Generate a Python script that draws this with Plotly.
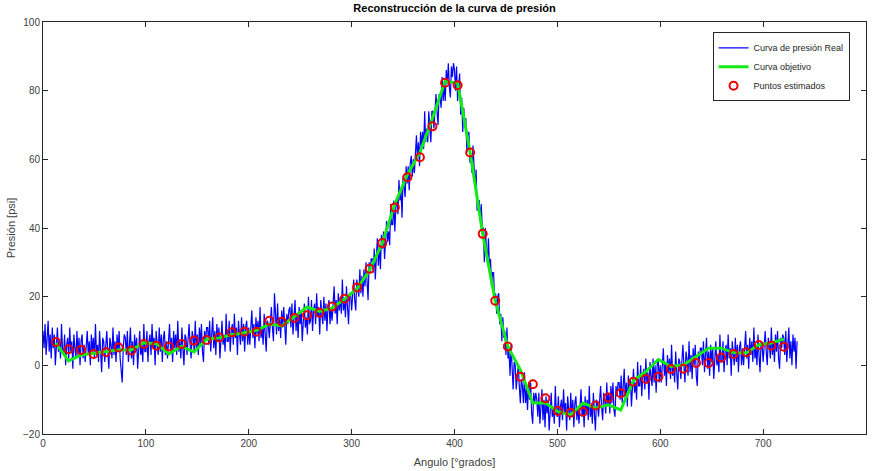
import plotly.graph_objects as go

# ---- Data ----
# Noisy measured pressure ("Curva de presión Real"), one sample per degree, 0..733
ANGULO_REAL = list(range(0, 734))
PRESION_REAL = [
    10, 5, 12, 3, 8, 13, 4, 9, 2, 11, 5, 9, 0, 8, 11, 4, 7, 2, 12, 4,
    3, 9, 0, 6, 8, 2, 11, 4, 7, -1, 9, 5, 2, 10, 3, 8, 0, 7, 9, 2,
    6, 1, 8, 10, 3, 7, 0, 9, 4, 8, 2, 12, 3, 6, 1, 10, 4, -2, 8, 7,
    1, 7, 10, 4, -1, 8, 6, 2, 11, 3, 7, 1, 9, 4, 10, 2, -2, -5, 5, 9,
    8, 3, 10, 1, 6, 11, 2, 7, 0, 9, 4, 8, -1, 7, 10, 3, 6, 1, 12, 4,
    4, 10, 1, 7, 9, 3, 12, 5, 8, 0, 10, 6, 3, 11, 4, 9, 1, 8, 10, 3,
    7, 2, 9, 12, 4, 8, 1, 10, 5, 9, 3, 13, 4, 7, 2, 11, 5, 0, 9, 8,
    3, 9, 12, 6, 2, 10, 8, 4, 13, 5, 9, 3, 11, 6, 12, 4, 1, 10, 7, 11,
    11, 6, 13, 4, 9, 14, 5, 10, 3, 12, 7, 11, 2, 10, 13, 6, 9, 4, 15, 7,
    7, 13, 4, 10, 12, 6, 15, 8, 11, 3, 13, 9, 6, 14, 7, 12, 4, 11, 13, 6,
    11, 6, 13, 16, 8, 12, 5, 14, 9, 13, 7, 17, 8, 11, 6, 15, 9, 4, 13, 12,
    8, 14, 17, 11, 7, 21, 13, 9, 18, 10, 14, 8, 16, 11, 17, 9, 6, 15, 12, 16,
    17, 11, 18, 9, 14, 19, 10, 15, 8, 17, 12, 16, 7, 15, 18, 11, 14, 9, 20, 12,
    13, 19, 10, 16, 18, 12, 21, 14, 17, 9, 19, 15, 12, 20, 13, 18, 10, 17, 19, 12,
    17, 13, 20, 23, 15, 19, 12, 21, 16, 20, 15, 25, 16, 19, 14, 23, 17, 12, 21, 21,
    16, 22, 25, 19, 16, 25, 23, 20, 28, 21, 26, 20, 28, 23, 30, 22, 19, 30, 27, 31,
    31, 27, 34, 25, 31, 37, 29, 35, 28, 38, 34, 39, 31, 39, 42, 36, 39, 35, 47, 41,
    41, 48, 39, 46, 49, 44, 54, 48, 51, 43, 55, 52, 49, 58, 53, 58, 51, 59, 61, 55,
    60, 56, 63, 67, 60, 65, 58, 68, 64, 68, 63, 74, 65, 69, 65, 74, 69, 65, 74, 74,
    69, 75, 79, 74, 70, 79, 78, 75, 84, 77, 82, 77, 86, 82, 88, 81, 78, 87, 84, 88,
    86, 80, 87, 77, 81, 85, 73, 78, 68, 75, 70, 72, 62, 67, 68, 59, 61, 56, 64, 56,
    52, 57, 45, 48, 48, 42, 47, 40, 40, 30, 40, 34, 30, 37, 28, 31, 23, 27, 27, 19,
    21, 15, 20, 21, 12, 15, 7, 14, 8, 10, 3, 11, 2, 4, -3, 6, 1, -7, 1, 0,
    -7, -2, 0, -6, -11, -4, -6, -11, -2, -11, -7, -13, -5, -10, -5, -14, -17, -8, -11, -8,
    -10, -15, -8, -17, -12, -7, -16, -10, -18, -9, -14, -10, -19, -11, -8, -15, -12, -17, -6, -14,
    -15, -9, -18, -12, -10, -16, -7, -14, -11, -19, -9, -13, -16, -8, -15, -10, -18, -11, -9, -16,
    -12, -17, -10, -7, -15, -11, -18, -9, -14, -10, -16, -6, -15, -12, -17, -8, -14, -19, -10, -11,
    -15, -9, -6, -12, -16, -8, -10, -14, -5, -12, -8, -14, -6, -11, -5, -13, -15, -6, -9, -5,
    -5, -10, -3, -11, -6, -1, -10, -5, -12, -3, -8, -4, -12, -4, -1, -8, -5, -10, 1, -6,
    -6, 0, -9, -3, -1, -7, 2, -5, -2, -10, 1, -3, -6, 2, -5, 0, -8, 0, 2, -5,
    0, -5, 2, 5, -3, 1, -6, 3, -2, 2, -4, 6, -3, 0, -5, 4, -2, -7, 2, 1,
    -4, 3, 6, 0, -5, 4, 2, -3, 7, -2, 3, -4, 5, 0, 6, -3, -6, 4, 1, 5,
    5, 0, 7, -2, 3, 8, -1, 4, -3, 6, 1, 5, -4, 4, 7, 0, 3, -2, 9, 1,
    1, 7, -2, 4, 6, 0, 9, 2, 5, -3, 7, 3, 0, 8, 1, 6, -2, 5, 7, 0,
    5, 0, 7, 10, 2, 6, -1, 8, 3, 7, 1, 11, 2, 5, 0, 9, 3, -2, 7, 6,
    1, 7, 10, 4, 0, 8, 6, 2, 11, 3, 7, 1, 9, 4, 10, 2, -1, 8, 5, 9,
    8, 3, 10, 1, 6, 11, 2, 7, 0, 9, 4, 8, -1, 7,
]

# Sample angles for target curve and estimated points
ANGULO_PUNTOS = [
    12.6, 24.8, 37.0, 49.2, 61.4, 73.6, 85.8, 98.0, 110.2, 122.4,
    134.6, 146.8, 159.0, 171.2, 183.4, 195.6, 207.8, 220.0, 232.2, 244.4,
    256.6, 268.8, 281.0, 293.2, 305.4, 317.6, 329.8, 342.0, 354.2, 366.4,
    378.6, 390.8, 403.0, 415.2, 427.4, 439.6, 451.8, 464.0, 476.2, 488.4,
    500.6, 512.8, 525.0, 537.2, 549.4, 561.6, 573.8, 586.0, 598.2, 610.4,
    622.6, 634.8, 647.0, 659.2, 671.4, 683.6, 695.8, 708.0, 720.2,
]

# "Curva objetivo"
PRESION_OBJETIVO = [
    6.5, 1.3, 3.0, 3.6, 4.0, 4.5, 4.5, 6.6, 6.3, 3.3,
    5.5, 3.9, 7.6, 8.0, 8.9, 9.5, 10.2, 12.0, 11.5, 14.2,
    17.0, 15.7, 16.7, 19.3, 22.4, 27.8, 35.6, 47.0, 55.5, 62.0,
    72.0, 82.7, 82.2, 62.0, 38.3, 18.8, 5.5, -1.3, -11.0, -11.0,
    -13.5, -14.4, -11.0, -12.5, -11.5, -13.0, -4.5, -1.8, 1.7, -0.3,
    0.1, 2.6, 5.0, 5.0, 3.7, 3.6, 6.0, 6.5, 7.7,
]

# "Puntos estimados"
PRESION_ESTIMADA = [
    6.8, 4.7, 4.5, 3.3, 3.8, 5.2, 4.3, 6.2, 5.7, 5.5,
    6.2, 7.2, 7.4, 8.1, 9.6, 9.8, 9.8, 13.0, 12.7, 13.8,
    14.6, 15.3, 17.1, 19.4, 22.7, 28.1, 35.6, 46.0, 54.8, 60.6,
    69.6, 82.3, 81.6, 62.0, 38.3, 18.8, 5.5, -3.3, -5.5, -9.6,
    -13.3, -13.8, -13.5, -11.7, -9.4, -8.1, -4.8, -4.0, -3.3, -1.1,
    -1.0, 0.7, 0.7, 2.3, 3.3, 3.8, 5.9, 5.7, 5.4,
]

X_TICKS = [0, 100, 200, 300, 400, 500, 600, 700, 800]
Y_TICKS = [-20, 0, 20, 40, 60, 80, 100]

FONT = "Liberation Sans, Arial, Helvetica, sans-serif"
AXIS_COLOR = "#262626"
TICK_COLOR = "#404040"

fig = go.Figure()
fig.add_trace(go.Scatter(
    x=ANGULO_REAL, y=PRESION_REAL, mode="lines",
    name="Curva de presión Real",
    line=dict(color="rgb(0,0,255)", width=1.2),
))
fig.add_trace(go.Scatter(
    x=ANGULO_PUNTOS, y=PRESION_OBJETIVO, mode="lines",
    name="Curva objetivo",
    line=dict(color="rgb(20,235,20)", width=3),
))
fig.add_trace(go.Scatter(
    x=ANGULO_PUNTOS, y=PRESION_ESTIMADA, mode="markers",
    name="Puntos estimados",
    marker=dict(symbol="circle-open", size=8, color="rgb(235,0,0)",
                line=dict(width=2, color="rgb(235,0,0)")),
))

axis_common = dict(
    showline=True, linecolor=AXIS_COLOR, linewidth=1, mirror="ticks",
    ticks="inside", ticklen=5, tickcolor=AXIS_COLOR, tickwidth=1,
    showgrid=False, zeroline=False, automargin=False,
    tickfont=dict(family=FONT, size=10, color=TICK_COLOR),
)

fig.update_layout(
    width=872, height=471,
    margin=dict(l=43, r=6, t=22, b=37),
    paper_bgcolor="white", plot_bgcolor="white",
    font=dict(family=FONT, size=10, color=TICK_COLOR),
    title=dict(text="<b>Reconstrucción de la curva de presión</b>",
               x=0.5, xanchor="center", xref="paper", y=0.990, yanchor="top",
               font=dict(family=FONT, size=11, color="black")),
    xaxis=dict(range=[0, 800], tickvals=X_TICKS,
               title=dict(text="Angulo [°grados]", standoff=10,
                          font=dict(family=FONT, size=11, color=TICK_COLOR)),
               **axis_common),
    yaxis=dict(range=[-20, 100], tickvals=Y_TICKS,
               title=dict(text="Presión [psi]", standoff=5,
                          font=dict(family=FONT, size=11, color=TICK_COLOR)),
               **axis_common),
    legend=dict(x=0.980, y=0.975, xanchor="right", yanchor="top",
                bgcolor="white", bordercolor=AXIS_COLOR, borderwidth=1,
                font=dict(family=FONT, size=9, color="#262626"),
                itemwidth=30, tracegroupgap=0),
    showlegend=True,
)

fig.write_html("out.html", config={"displayModeBar": False},
               post_script="document.body.style.margin='0';")
